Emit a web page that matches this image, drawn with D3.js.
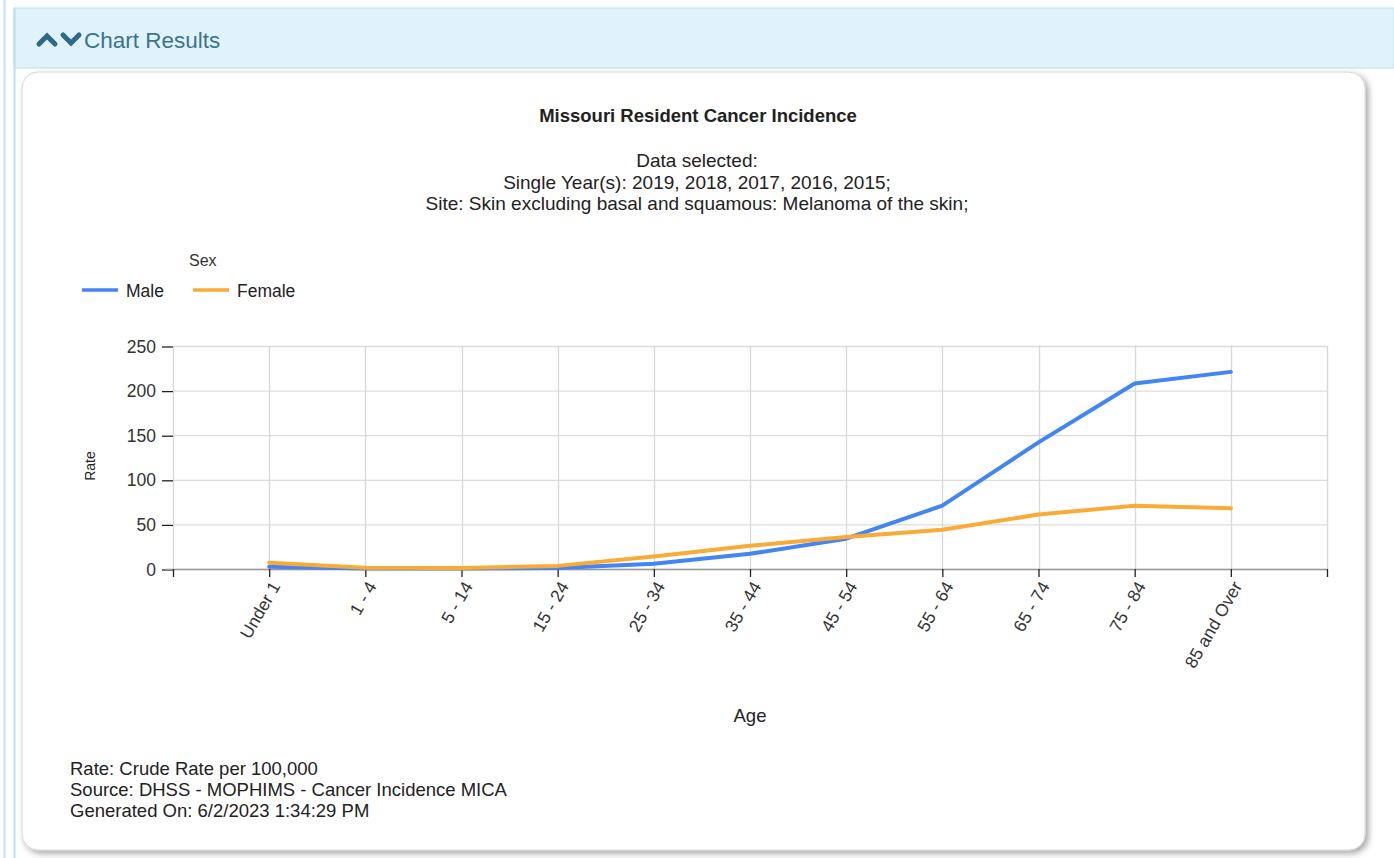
<!DOCTYPE html>
<html><head><meta charset="utf-8">
<script src="https://cdn.jsdelivr.net/npm/d3@7"></script>
<style>
html,body{margin:0;padding:0;background:#fff;font-family:"Liberation Sans",Arial,sans-serif;}
</style></head>
<body>
<svg id="c" width="1394" height="858"></svg>
<script>
const categories = ["Under 1","1 - 4","5 - 14","15 - 24","25 - 34","35 - 44","45 - 54","55 - 64","65 - 74","75 - 84","85 and Over"];
const maleValues = [2.5,0.6,0.5,1.0,6,17,34,71,142,208,221];
const femaleValues = [7,1.5,1.0,3.5,14,26,36,44,61,71,68];
const yTicks = [0,50,100,150,200,250];
const seriesNames = ["Male","Female"];
const seriesColors = ["#4285f4","#f9ab36"];

(function(){
const svg = d3.select("#c");
const font = '"Liberation Sans",Arial,sans-serif';

// page frame
svg.append("rect").attr("x",0).attr("y",0).attr("width",1394).attr("height",858).attr("fill","#fff");
svg.append("line").attr("x1",4.5).attr("x2",4.5).attr("y1",0).attr("y2",858).attr("stroke","#bfe3ee").attr("stroke-width",2);
svg.append("rect").attr("x",14).attr("y",8).attr("width",1380).attr("height",60).attr("fill","#e1f3fa").attr("stroke","#b9e0ec");
svg.append("line").attr("x1",14.5).attr("x2",14.5).attr("y1",8).attr("y2",858).attr("stroke","#b9e0ec").attr("stroke-width",2);

// chevrons
svg.append("path").attr("d","M39,44 L47,36 L55,44").attr("fill","none").attr("stroke","#2c6a87").attr("stroke-width",5).attr("stroke-linecap","round");
svg.append("path").attr("d","M63,35 L71,43 L79,35").attr("fill","none").attr("stroke","#2c6a87").attr("stroke-width",5).attr("stroke-linecap","round");
svg.append("text").attr("x",84).attr("y",47.5).attr("font-family",font).attr("font-size",22.5).attr("fill","#3a7491").text("Chart Results");

// card with shadow
const defs = svg.append("defs");
const f = defs.append("filter").attr("id","sh").attr("x","-5%").attr("y","-5%").attr("width","110%").attr("height","110%");
f.append("feDropShadow").attr("dx",3).attr("dy",3).attr("stdDeviation",3).attr("flood-color","#000").attr("flood-opacity",0.35);
svg.append("rect").attr("x",22).attr("y",72).attr("width",1343).attr("height",778).attr("rx",16)
  .attr("fill","#fff").attr("stroke","#d6d6d6").attr("filter","url(#sh)");

// titles
svg.append("text").attr("x",698).attr("y",121.5).attr("text-anchor","middle").attr("font-family",font)
  .attr("font-size",18.5).attr("font-weight","bold").attr("fill","#222").text("Missouri Resident Cancer Incidence");
const sub = ["Data selected:","Single Year(s): 2019, 2018, 2017, 2016, 2015;","Site: Skin excluding basal and squamous: Melanoma of the skin;"];
sub.forEach((s,i)=>svg.append("text").attr("x",697).attr("y",167+i*21.5).attr("text-anchor","middle")
  .attr("font-family",font).attr("font-size",19).attr("fill","#222").text(s));

// legend
svg.append("text").attr("x",189).attr("y",266).attr("font-family",font).attr("font-size",16).attr("fill","#333").text("Sex");
const legX = [82,193];
seriesNames.forEach((n,i)=>{
  svg.append("line").attr("x1",legX[i]).attr("x2",legX[i]+36).attr("y1",290).attr("y2",290)
    .attr("stroke",seriesColors[i]).attr("stroke-width",3.5);
  svg.append("text").attr("x",legX[i]+44).attr("y",296.5).attr("font-family",font).attr("font-size",17.5).attr("fill","#222").text(n);
});

// plot
const pL=173, pR=1327, pT=346, pB=569;
const x = d3.scaleLinear().domain([0,categories.length+1]).range([pL,pR]);
const y = d3.scaleLinear().domain([0,250]).range([pB,pT]);

const g = svg.append("g");
g.selectAll(".hg").data(yTicks).join("line").attr("x1",pL).attr("x2",pR)
  .attr("y1",d=>y(d)+0.5).attr("y2",d=>y(d)+0.5).attr("stroke","#dcdcdc").attr("stroke-width",1.3);
const xIdx = d3.range(0,categories.length+2);
g.selectAll(".vg").data(xIdx).join("line").attr("x1",d=>Math.round(x(d))+0.5).attr("x2",d=>Math.round(x(d))+0.5)
  .attr("y1",pT).attr("y2",pB).attr("stroke","#d8d8d8").attr("stroke-width",1.3);

// y axis
const yAxis = g.append("g").attr("transform",`translate(${pL},0.5)`)
  .call(d3.axisLeft(y).tickValues(yTicks).tickSize(11).tickPadding(6));
yAxis.select(".domain").remove();
yAxis.selectAll(".tick line").attr("stroke","#222").attr("stroke-width",1.3);
yAxis.selectAll(".tick text").attr("font-family",font).attr("font-size",17.5).attr("fill","#333");

// x axis
g.append("line").attr("x1",pL-8).attr("x2",pR).attr("y1",pB+0.5).attr("y2",pB+0.5).attr("stroke","#999").attr("stroke-width",1.5);
const xAxis = g.append("g").attr("transform",`translate(0,${pB})`)
  .call(d3.axisBottom(x).tickValues(xIdx).tickSize(8).tickFormat(d=> (d>=1 && d<=categories.length)? categories[d-1] : ""));
xAxis.select(".domain").remove();
xAxis.selectAll(".tick line").attr("stroke","#222").attr("stroke-width",1.3);
xAxis.selectAll(".tick text").attr("font-family",font).attr("font-size",17.5).attr("fill","#333")
  .attr("text-anchor","end").attr("transform","translate(6,14) rotate(-60)").attr("dy","0.35em").attr("y",0);

// lines
const lineGen = d3.line().x((d,i)=>x(i+1)).y(d=>y(d));
[maleValues,femaleValues].forEach((vals,i)=>{
  g.append("path").datum(vals).attr("d",lineGen).attr("fill","none").attr("stroke",seriesColors[i])
    .attr("stroke-width",4).attr("stroke-linejoin","round").attr("stroke-linecap","round");
});

// axis titles
svg.append("text").attr("transform","translate(95,466) rotate(-90)").attr("text-anchor","middle")
  .attr("font-family",font).attr("font-size",14).attr("fill","#222").text("Rate");
svg.append("text").attr("x",750).attr("y",722).attr("text-anchor","middle")
  .attr("font-family",font).attr("font-size",18.5).attr("fill","#222").text("Age");

// footer
const foot = ["Rate: Crude Rate per 100,000","Source: DHSS - MOPHIMS - Cancer Incidence MICA","Generated On: 6/2/2023 1:34:29 PM"];
foot.forEach((s,i)=>svg.append("text").attr("x",70).attr("y",774.5+i*21).attr("font-family",font).attr("font-size",18.5).attr("fill","#222").text(s));
})();
</script>
</body></html>
